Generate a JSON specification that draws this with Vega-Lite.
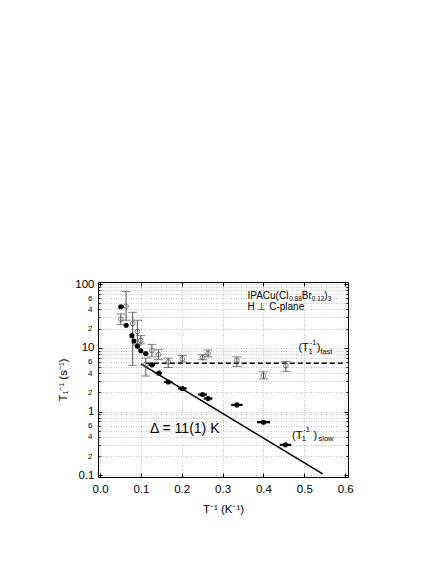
{
  "$schema": "https://vega.github.io/schema/vega-lite/v6.json",
  "width": 250,
  "height": 195,
  "autosize": "none",
  "padding": {"left": 98, "top": 282, "right": 88, "bottom": 87},
  "background": "white",
  "config": {
    "font": "Liberation Sans",
    "view": {"stroke": "black", "strokeWidth": 1},
    "axis": {"domain": false, "labelColor": "black", "titleColor": "black", "tickColor": "black", "titleFontWeight": "normal", "gridColor": "#9a9a9a", "gridDash": [1, 1.5], "gridWidth": 0.6}
  },
  "data": {"values": [{}]},
  "datasets": {
    "slow": [
      {"x": 0.051, "y": 44, "xlo": 0.045, "xhi": 0.058},
      {"x": 0.064, "y": 22.6, "xlo": 0.06, "xhi": 0.068},
      {"x": 0.078, "y": 15.5, "xlo": 0.074, "xhi": 0.082},
      {"x": 0.083, "y": 12.8, "xlo": 0.079, "xhi": 0.087},
      {"x": 0.0915, "y": 10.6, "xlo": 0.087, "xhi": 0.096},
      {"x": 0.0997, "y": 9.0, "xlo": 0.095, "xhi": 0.105},
      {"x": 0.112, "y": 8.1, "xlo": 0.106, "xhi": 0.118},
      {"x": 0.127, "y": 5.4, "xlo": 0.119, "xhi": 0.135},
      {"x": 0.144, "y": 4.0, "xlo": 0.136, "xhi": 0.152},
      {"x": 0.167, "y": 2.9, "xlo": 0.157, "xhi": 0.177},
      {"x": 0.2016, "y": 2.3, "xlo": 0.191, "xhi": 0.212},
      {"x": 0.251, "y": 1.85, "xlo": 0.24, "xhi": 0.262},
      {"x": 0.2645, "y": 1.6, "xlo": 0.254, "xhi": 0.275},
      {"x": 0.335, "y": 1.27, "xlo": 0.321, "xhi": 0.349},
      {"x": 0.4, "y": 0.68, "xlo": 0.384, "xhi": 0.416},
      {"x": 0.454, "y": 0.3, "xlo": 0.44, "xhi": 0.468}
    ],
    "fast": [
      {"x": 0.0507, "y": 28, "lo": 23, "hi": 34},
      {"x": 0.0637, "y": 45, "lo": 27, "hi": 76},
      {"x": 0.08, "y": 24, "lo": 5.3, "hi": 36},
      {"x": 0.0915, "y": 18, "lo": 11, "hi": 27},
      {"x": 0.0997, "y": 13, "lo": 11.5, "hi": 15.5},
      {"x": 0.112, "y": 5.4, "lo": 3.6, "hi": 6.9},
      {"x": 0.127, "y": 9.0, "lo": 7.2, "hi": 11.3},
      {"x": 0.143, "y": 7.8, "lo": 6.5, "hi": 9.3},
      {"x": 0.167, "y": 6.0, "lo": 4.9, "hi": 6.9},
      {"x": 0.2016, "y": 6.7, "lo": 6.0, "hi": 7.6},
      {"x": 0.251, "y": 7.0, "lo": 6.5, "hi": 7.8},
      {"x": 0.2645, "y": 8.1, "lo": 7.2, "hi": 9.2},
      {"x": 0.335, "y": 6.35, "lo": 5.1, "hi": 7.2},
      {"x": 0.4, "y": 3.65, "lo": 3.25, "hi": 4.2},
      {"x": 0.455, "y": 5.25, "lo": 4.25, "hi": 6.1}
    ],
    "fit": [{"x": 0.1, "y": 5.6}, {"x": 0.545, "y": 0.105}],
    "plateau": [{"x": 0.112, "y": 5.7}, {"x": 0.598, "y": 5.7}]
  },
  "resolve": {"axis": {"x": "independent", "y": "independent"}},
  "layer": [
    {
      "data": {"name": "fit"},
      "mark": {"type": "line", "color": "black", "strokeWidth": 1.5},
      "encoding": {
        "x": {"field": "x", "type": "quantitative", "scale": {"domain": [-0.005, 0.607], "nice": false, "zero": false},
          "axis": {"orient": "bottom", "values": [0, 0.1, 0.2, 0.3, 0.4, 0.5, 0.6], "format": ".1f", "labelFontSize": 11.5, "tickSize": -4, "labelPadding": 10, "grid": true, "title": "T⁻¹ (K⁻¹)", "titleFontSize": 11.5, "titlePadding": 9}},
        "y": {"field": "y", "type": "quantitative", "scale": {"type": "log", "domain": [0.094, 107.5], "nice": false},
          "axis": {"orient": "left",
            "values": [0.1, 0.2, 0.3, 0.4, 0.5, 0.6, 0.7, 0.8, 0.9, 1, 2, 3, 4, 5, 6, 7, 8, 9, 10, 20, 30, 40, 50, 60, 70, 80, 90, 100],
            "labelExpr": "indexof([0.1, 1, 10, 100], datum.value) >= 0 ? format(datum.value, '~g') : (indexof([0.2, 2, 20, 0.4, 4, 40, 0.6, 6, 60], datum.value) >= 0 ? format(datum.value / pow(10, floor(log(datum.value) / LN10 + 1e-6)), '.0f') : '')",
            "labelFontSize": {"condition": {"test": "indexof([0.1, 1, 10, 100], datum.value) >= 0", "value": 11.5}, "value": 8},
            "tickSize": {"condition": {"test": "indexof([0.1, 1, 10, 100], datum.value) >= 0", "value": -4}, "value": -2},
            "labelPadding": 8, "grid": true, "title": "T₁⁻¹ (s⁻¹)", "titleFontSize": 11.5, "titlePadding": 6}}
      }
    },
    {
      "data": {"name": "plateau"},
      "mark": {"type": "line", "color": "black", "strokeWidth": 1.5, "strokeDash": [5, 3]},
      "encoding": {
        "x": {"field": "x", "type": "quantitative", "scale": {"domain": [-0.005, 0.607], "nice": false, "zero": false},
          "axis": {"orient": "top", "values": [0, 0.1, 0.2, 0.3, 0.4, 0.5, 0.6], "labels": false, "tickSize": -4, "grid": false, "title": null}},
        "y": {"field": "y", "type": "quantitative", "scale": {"type": "log", "domain": [0.094, 107.5], "nice": false},
          "axis": {"orient": "right",
            "values": [0.1, 0.2, 0.3, 0.4, 0.5, 0.6, 0.7, 0.8, 0.9, 1, 2, 3, 4, 5, 6, 7, 8, 9, 10, 20, 30, 40, 50, 60, 70, 80, 90, 100],
            "labels": false, "grid": false, "title": null,
            "tickSize": {"condition": {"test": "indexof([0.1, 1, 10, 100], datum.value) >= 0", "value": -4}, "value": -2}}}
      }
    },
    {
      "data": {"name": "fast"},
      "mark": {"type": "errorbar", "ticks": {"size": 9, "color": "#505050"}, "rule": {"color": "#505050"}, "thickness": 1},
      "encoding": {
        "x": {"field": "x", "type": "quantitative", "scale": {"domain": [-0.005, 0.607], "nice": false, "zero": false}, "axis": null},
        "y": {"field": "lo", "type": "quantitative", "scale": {"type": "log", "domain": [0.094, 107.5], "nice": false}, "axis": null},
        "y2": {"field": "hi"}
      }
    },
    {
      "data": {"name": "fast"},
      "mark": {"type": "point", "shape": "circle", "filled": false, "color": "#505050", "size": 22, "strokeWidth": 1},
      "encoding": {
        "x": {"field": "x", "type": "quantitative", "scale": {"domain": [-0.005, 0.607], "nice": false, "zero": false}, "axis": null},
        "y": {"field": "y", "type": "quantitative", "scale": {"type": "log", "domain": [0.094, 107.5], "nice": false}, "axis": null}
      }
    },
    {
      "data": {"name": "slow"},
      "mark": {"type": "rule", "color": "black", "strokeWidth": 2.2},
      "encoding": {
        "x": {"field": "xlo", "type": "quantitative", "scale": {"domain": [-0.005, 0.607], "nice": false, "zero": false}, "axis": null},
        "x2": {"field": "xhi"},
        "y": {"field": "y", "type": "quantitative", "scale": {"type": "log", "domain": [0.094, 107.5], "nice": false}, "axis": null}
      }
    },
    {
      "data": {"name": "slow"},
      "mark": {"type": "point", "shape": "circle", "filled": true, "color": "black", "size": 26, "opacity": 1},
      "encoding": {
        "x": {"field": "x", "type": "quantitative", "scale": {"domain": [-0.005, 0.607], "nice": false, "zero": false}, "axis": null},
        "y": {"field": "y", "type": "quantitative", "scale": {"type": "log", "domain": [0.094, 107.5], "nice": false}, "axis": null}
      }
    },
    {"mark": {"type": "text", "text": "IPACu(Cl", "align": "left", "baseline": "alphabetic", "fontSize": 10},
      "encoding": {"x": {"datum": 0.3608, "type": "quantitative", "scale": {"domain": [-0.005, 0.607], "nice": false, "zero": false}, "axis": null},
        "y": {"datum": 59, "type": "quantitative", "scale": {"type": "log", "domain": [0.094, 107.5], "nice": false}, "axis": null}}},
    {"mark": {"type": "text", "text": "0.88", "align": "left", "baseline": "alphabetic", "fontSize": 6.5},
      "encoding": {"x": {"datum": 0.4629, "type": "quantitative", "scale": {"domain": [-0.005, 0.607], "nice": false, "zero": false}, "axis": null},
        "y": {"datum": 53.9, "type": "quantitative", "scale": {"type": "log", "domain": [0.094, 107.5], "nice": false}, "axis": null}}},
    {"mark": {"type": "text", "text": "Br", "align": "left", "baseline": "alphabetic", "fontSize": 10},
      "encoding": {"x": {"datum": 0.4938, "type": "quantitative", "scale": {"domain": [-0.005, 0.607], "nice": false, "zero": false}, "axis": null},
        "y": {"datum": 59, "type": "quantitative", "scale": {"type": "log", "domain": [0.094, 107.5], "nice": false}, "axis": null}}},
    {"mark": {"type": "text", "text": "0.12", "align": "left", "baseline": "alphabetic", "fontSize": 6.5},
      "encoding": {"x": {"datum": 0.5182, "type": "quantitative", "scale": {"domain": [-0.005, 0.607], "nice": false, "zero": false}, "axis": null},
        "y": {"datum": 53.9, "type": "quantitative", "scale": {"type": "log", "domain": [0.094, 107.5], "nice": false}, "axis": null}}},
    {"mark": {"type": "text", "text": ")", "align": "left", "baseline": "alphabetic", "fontSize": 10},
      "encoding": {"x": {"datum": 0.5491, "type": "quantitative", "scale": {"domain": [-0.005, 0.607], "nice": false, "zero": false}, "axis": null},
        "y": {"datum": 59, "type": "quantitative", "scale": {"type": "log", "domain": [0.094, 107.5], "nice": false}, "axis": null}}},
    {"mark": {"type": "text", "text": "3", "align": "left", "baseline": "alphabetic", "fontSize": 6.5},
      "encoding": {"x": {"datum": 0.5572, "type": "quantitative", "scale": {"domain": [-0.005, 0.607], "nice": false, "zero": false}, "axis": null},
        "y": {"datum": 53.9, "type": "quantitative", "scale": {"type": "log", "domain": [0.094, 107.5], "nice": false}, "axis": null}}},
    {"mark": {"type": "text", "text": "H ⊥ C-plane", "align": "left", "baseline": "alphabetic", "fontSize": 10},
      "encoding": {"x": {"datum": 0.3608, "type": "quantitative", "scale": {"domain": [-0.005, 0.607], "nice": false, "zero": false}, "axis": null},
        "y": {"datum": 38.7, "type": "quantitative", "scale": {"type": "log", "domain": [0.094, 107.5], "nice": false}, "axis": null}}},
    {"mark": {"type": "text", "text": "(T", "align": "left", "baseline": "alphabetic", "fontSize": 11},
      "encoding": {"x": {"datum": 0.4857, "type": "quantitative", "scale": {"domain": [-0.005, 0.607], "nice": false, "zero": false}, "axis": null},
        "y": {"datum": 8.81, "type": "quantitative", "scale": {"type": "log", "domain": [0.094, 107.5], "nice": false}, "axis": null}}},
    {"mark": {"type": "text", "text": "1", "align": "left", "baseline": "alphabetic", "fontSize": 7.5},
      "encoding": {"x": {"datum": 0.5102, "type": "quantitative", "scale": {"domain": [-0.005, 0.607], "nice": false, "zero": false}, "axis": null},
        "y": {"datum": 8.11, "type": "quantitative", "scale": {"type": "log", "domain": [0.094, 107.5], "nice": false}, "axis": null}}},
    {"mark": {"type": "text", "text": "-1", "align": "left", "baseline": "alphabetic", "fontSize": 7.5},
      "encoding": {"x": {"datum": 0.5131, "type": "quantitative", "scale": {"domain": [-0.005, 0.607], "nice": false, "zero": false}, "axis": null},
        "y": {"datum": 11.2, "type": "quantitative", "scale": {"type": "log", "domain": [0.094, 107.5], "nice": false}, "axis": null}}},
    {"mark": {"type": "text", "text": ")", "align": "left", "baseline": "alphabetic", "fontSize": 11},
      "encoding": {"x": {"datum": 0.5307, "type": "quantitative", "scale": {"domain": [-0.005, 0.607], "nice": false, "zero": false}, "axis": null},
        "y": {"datum": 8.81, "type": "quantitative", "scale": {"type": "log", "domain": [0.094, 107.5], "nice": false}, "axis": null}}},
    {"mark": {"type": "text", "text": "fast", "align": "left", "baseline": "alphabetic", "fontSize": 7.5},
      "encoding": {"x": {"datum": 0.5388, "type": "quantitative", "scale": {"domain": [-0.005, 0.607], "nice": false, "zero": false}, "axis": null},
        "y": {"datum": 8.11, "type": "quantitative", "scale": {"type": "log", "domain": [0.094, 107.5], "nice": false}, "axis": null}}},
    {"mark": {"type": "text", "text": "(T", "align": "left", "baseline": "alphabetic", "fontSize": 11},
      "encoding": {"x": {"datum": 0.4702, "type": "quantitative", "scale": {"domain": [-0.005, 0.607], "nice": false, "zero": false}, "axis": null},
        "y": {"datum": 0.373, "type": "quantitative", "scale": {"type": "log", "domain": [0.094, 107.5], "nice": false}, "axis": null}}},
    {"mark": {"type": "text", "text": "1", "align": "left", "baseline": "alphabetic", "fontSize": 7.5},
      "encoding": {"x": {"datum": 0.494, "type": "quantitative", "scale": {"domain": [-0.005, 0.607], "nice": false, "zero": false}, "axis": null},
        "y": {"datum": 0.339, "type": "quantitative", "scale": {"type": "log", "domain": [0.094, 107.5], "nice": false}, "axis": null}}},
    {"mark": {"type": "text", "text": "-1", "align": "left", "baseline": "alphabetic", "fontSize": 7.5},
      "encoding": {"x": {"datum": 0.4972, "type": "quantitative", "scale": {"domain": [-0.005, 0.607], "nice": false, "zero": false}, "axis": null},
        "y": {"datum": 0.486, "type": "quantitative", "scale": {"type": "log", "domain": [0.094, 107.5], "nice": false}, "axis": null}}},
    {"mark": {"type": "text", "text": ")", "align": "left", "baseline": "alphabetic", "fontSize": 11},
      "encoding": {"x": {"datum": 0.5224, "type": "quantitative", "scale": {"domain": [-0.005, 0.607], "nice": false, "zero": false}, "axis": null},
        "y": {"datum": 0.373, "type": "quantitative", "scale": {"type": "log", "domain": [0.094, 107.5], "nice": false}, "axis": null}}},
    {"mark": {"type": "text", "text": "slow", "align": "left", "baseline": "alphabetic", "fontSize": 7.5},
      "encoding": {"x": {"datum": 0.5347, "type": "quantitative", "scale": {"domain": [-0.005, 0.607], "nice": false, "zero": false}, "axis": null},
        "y": {"datum": 0.339, "type": "quantitative", "scale": {"type": "log", "domain": [0.094, 107.5], "nice": false}, "axis": null}}},
    {"mark": {"type": "text", "text": "Δ = 11(1) K", "align": "left", "baseline": "alphabetic", "fontSize": 14},
      "encoding": {"x": {"datum": 0.1225, "type": "quantitative", "scale": {"domain": [-0.005, 0.607], "nice": false, "zero": false}, "axis": null},
        "y": {"datum": 0.464, "type": "quantitative", "scale": {"type": "log", "domain": [0.094, 107.5], "nice": false}, "axis": null}}}
  ]
}
